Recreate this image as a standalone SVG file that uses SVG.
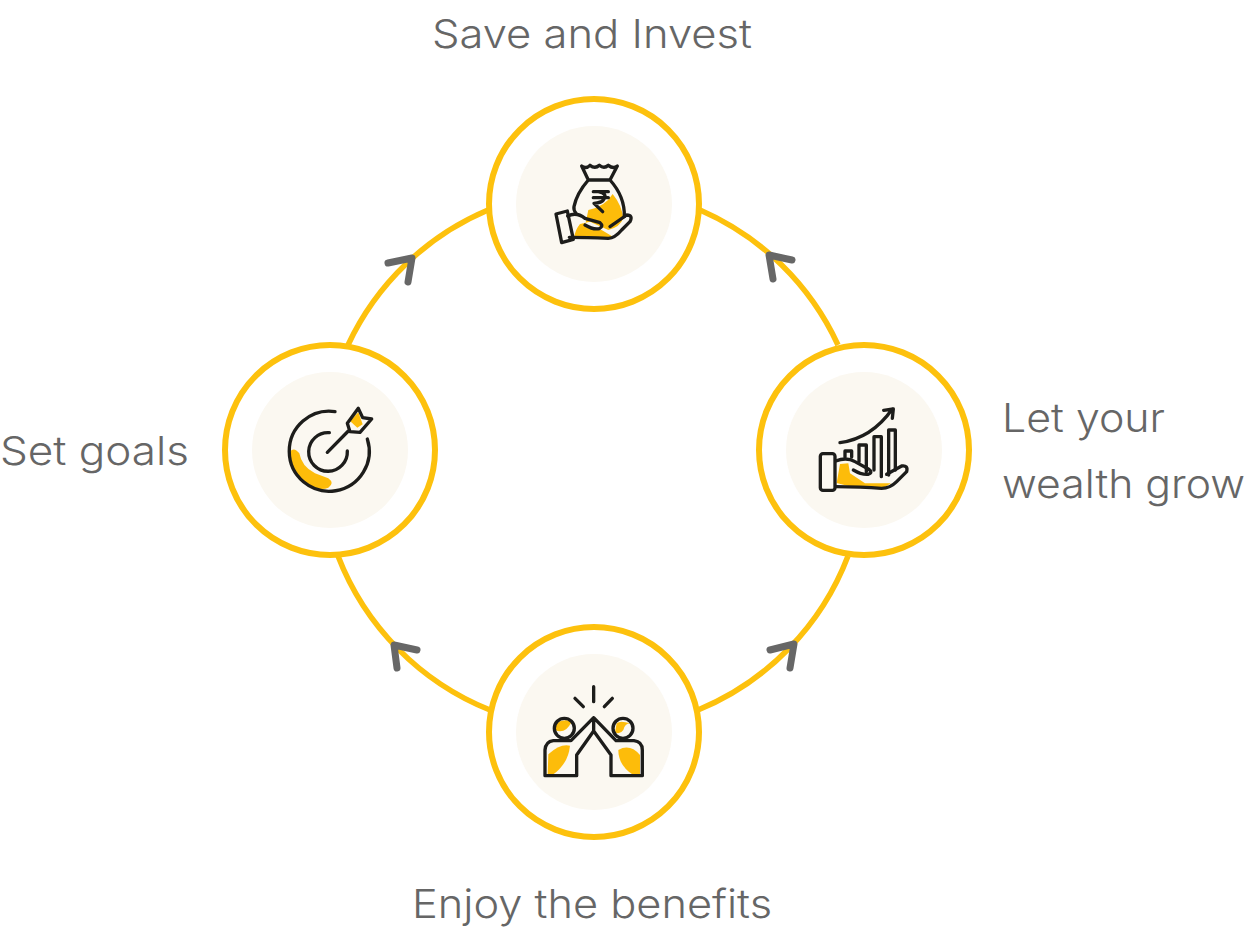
<svg xmlns="http://www.w3.org/2000/svg" width="1248" height="936" viewBox="0 0 1248 936">
<style>
.ring{fill:#fff;stroke:#fdc10d;stroke-width:6}
.disc{fill:#fbf8f1}
.arc{fill:none;stroke:#fdc10d;stroke-width:5.5}
.head{fill:none;stroke:#676767;stroke-width:7;stroke-linecap:round;stroke-linejoin:round}
.lab{font-family:"Inter","Liberation Sans",sans-serif;font-weight:300;font-size:40px;fill:#666}
.ic{fill:none;stroke:#1d1d1b;stroke-width:10;stroke-linecap:round;stroke-linejoin:round}
.y{fill:#fdbc0a;stroke:none}
</style>
<g id="connectors">
<path class="arc" d="M700 210A271 271 0 0 1 838 345"/>
<path class="arc" d="M348 345A271 271 0 0 1 488 210"/>
<path class="arc" d="M338 556A271 271 0 0 0 490 710"/>
<path class="arc" d="M848 556A271 271 0 0 1 698 710"/>
<path class="head" d="M388 263L412 258L408 282"/>
<path class="head" d="M792 260L769 255L773 279"/>
<path class="head" d="M417 650L394 645L397 668"/>
<path class="head" d="M770 650L794 644L790 668"/>
</g>
<g id="node-save">
<circle class="ring" cx="594" cy="204" r="105"/>
<circle class="disc" cx="594" cy="204" r="78"/>
<g transform="translate(530 150) scale(.3333)">
<path class="y" d="M175 180Q225 170 248 132Q275 165 280 205Q270 232 235 240L180 215L150 222Q135 240 132 264L255 264L215 240L165 228Z"/>
<path class="ic" d="M155 48Q168 58 180 46Q195 58 208 46Q222 58 235 46Q250 58 262 48L240 90H175ZM175 90Q140 130 132 170Q130 180 138 190M240 90Q285 140 283 200"/>
<path class="ic" d="M190 125H235M190 143H235M205 125Q235 130 220 150Q215 158 192 160L218 185"/>
<path class="ic" d="M78 192L112 183L130 268L95 278Z"/>
<path class="ic" d="M113 198Q140 185 165 205L210 218Q222 228 208 236Q190 240 165 225M118 262Q170 262 235 265Q255 264 275 240L300 215Q310 195 290 195L240 230"/>
</g>
</g>
<g id="node-goals">
<circle class="ring" cx="330" cy="450" r="105"/>
<circle class="disc" cx="330" cy="450" r="78"/>
<g transform="translate(270 395) scale(.3333)">
<path class="y" d="M60 170Q72 155 88 175Q95 215 135 235L175 250Q195 265 175 278Q150 290 110 268Q65 235 60 170Z"/>
<path class="y" d="M240 78L265 52L278 88L262 98Z"/>
<path class="ic" d="M195 50A120 120 0 1 0 292 132"/>
<path class="ic" d="M178 113A58 58 0 1 0 232 168"/>
<path class="ic" d="M172 172L235 108M232 85L265 40L278 68L305 72L270 112L240 110Z"/>
</g>
</g>
<g id="node-grow">
<circle class="ring" cx="864" cy="450" r="105"/>
<circle class="disc" cx="864" cy="450" r="78"/>
<g transform="translate(805 395) scale(.3333)">
<path class="y" d="M105 207L130 205L135 235L180 265L258 265L228 283L150 278L95 264Z"/>
<rect class="ic" x="46" y="176" width="44" height="110" rx="8"/>
<path class="ic" d="M105 143Q200 130 262 42M236 46L265 42L262 70"/>
<path class="ic" d="M120 186V168H140V186M162 200V150H184V230M207 225V125H229V245M251 240V105H271V225"/>
<path class="ic" d="M92 198Q125 185 150 200L190 222Q205 232 190 238Q170 240 145 225M92 275Q170 275 230 280Q255 280 275 260L305 230Q310 210 290 213L245 238"/>
</g>
</g>
<g id="node-benefits">
<circle class="ring" cx="594" cy="732" r="105"/>
<circle class="disc" cx="594" cy="732" r="78"/>
<g transform="translate(535 675) scale(.3333)">
<path class="y" d="M40 238Q75 205 105 212Q100 265 55 298H38Z"/>
<path class="y" d="M250 225Q285 205 315 240V298H292Q250 270 250 225Z"/>
<path class="y" d="M60 165Q90 180 110 140Q85 130 65 145Z"/>
<path class="y" d="M245 145Q255 135 285 145Q270 145 265 165Q255 180 240 172Z"/>
<path class="ic" d="M176 35V80M120 70L145 95M232 70L208 95"/>
<circle class="ic" cx="88" cy="160" r="30"/>
<circle class="ic" cx="264" cy="160" r="30"/>
<path class="ic" d="M125 302H30V225Q32 200 55 197H108L176 128L243 197H297Q322 200 322 225V302H228V240L176 168L125 240ZM176 128V168"/>
</g>
</g>
<text class="lab" x="432" y="48" textLength="320" lengthAdjust="spacingAndGlyphs">Save and Invest</text>
<text class="lab" x="0" y="465" textLength="189" lengthAdjust="spacingAndGlyphs">Set goals</text>
<text class="lab" x="1002" y="432" textLength="163" lengthAdjust="spacingAndGlyphs">Let your</text>
<text class="lab" x="1002" y="498" textLength="243" lengthAdjust="spacingAndGlyphs">wealth grow</text>
<text class="lab" x="412" y="918" textLength="360" lengthAdjust="spacingAndGlyphs">Enjoy the benefits</text>
</svg>
